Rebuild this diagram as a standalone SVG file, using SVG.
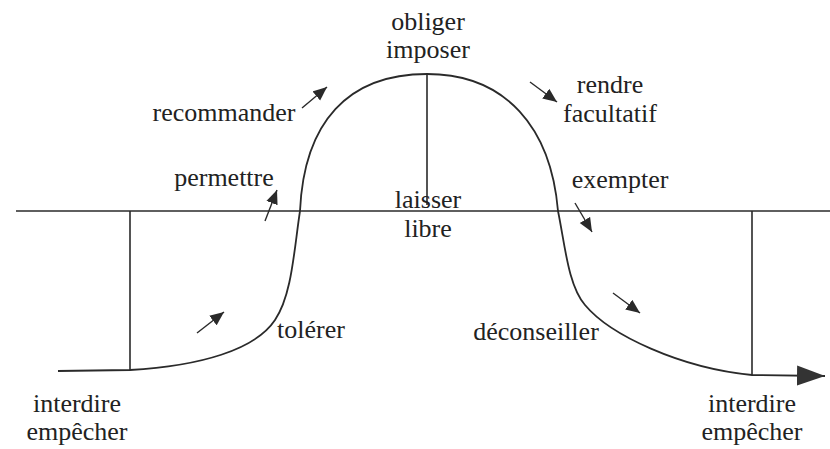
<svg xmlns="http://www.w3.org/2000/svg" width="830" height="449" viewBox="0 0 830 449">
<style>
text{font-family:"Liberation Serif","Times New Roman",serif;font-size:26px;fill:#222;text-anchor:middle}
.ln{fill:none;stroke:#2a2a2a;stroke-width:1.6}
.cv{fill:none;stroke:#2a2a2a;stroke-width:1.8}
.ar{fill:none;stroke:#2a2a2a;stroke-width:1.4}
</style>
<defs>
<marker id="big" markerUnits="userSpaceOnUse" markerWidth="30" markerHeight="22" viewBox="0 0 30 22" refX="28" refY="11" orient="auto">
<path d="M0,1 L28,11 L0,21 Z" fill="#333"/>
</marker>
<marker id="sm" markerUnits="userSpaceOnUse" markerWidth="15" markerHeight="13" viewBox="0 0 15 13" refX="14" refY="6.5" orient="auto">
<path d="M0,0.5 L14,6.5 L0,12.5 Z" fill="#2a2a2a"/>
</marker>
</defs>
<rect width="830" height="449" fill="#fff"/>
<g id="connectors">
<line class="ln" x1="16" y1="211" x2="830" y2="211"/>
<line class="ln" x1="130" y1="211" x2="130" y2="370"/>
<line class="ln" x1="427" y1="74" x2="427" y2="205"/>
<line class="ln" x1="752" y1="211" x2="752" y2="375"/>
<path class="cv" marker-end="url(#big)" d="M58,371 L130,370 C200,366 255,350 275,320 C292,295 294,250 300,211 C304,122 348,74 427,74 C506,74 551,128 558,211 C565,245 568,285 585,305 C610,335 680,368 752,375 L825,376"/>
<line class="ar" marker-end="url(#sm)" x1="302" y1="108" x2="327" y2="87"/>
<line class="ar" marker-end="url(#sm)" x1="265" y1="221" x2="277" y2="190"/>
<line class="ar" marker-end="url(#sm)" x1="197" y1="333" x2="224" y2="312"/>
<line class="ar" marker-end="url(#sm)" x1="530" y1="82" x2="557" y2="102"/>
<line class="ar" marker-end="url(#sm)" x1="575" y1="203" x2="592" y2="232"/>
<line class="ar" marker-end="url(#sm)" x1="613" y1="293" x2="640" y2="313"/>
</g>
<g id="n-obliger"><text x="428" y="30">obliger</text><text x="428" y="58">imposer</text></g>
<g id="n-recommander"><text x="224" y="121">recommander</text></g>
<g id="n-permettre"><text x="224" y="186">permettre</text></g>
<g id="n-laisser"><text x="428" y="208">laisser</text><text x="428" y="237">libre</text></g>
<g id="n-rendre"><text x="610" y="93">rendre</text><text x="610" y="122">facultatif</text></g>
<g id="n-exempter"><text x="620" y="188">exempter</text></g>
<g id="n-tolerer"><text x="311" y="338">tolérer</text></g>
<g id="n-deconseiller"><text x="536" y="340">déconseiller</text></g>
<g id="n-interdire-left"><text x="77" y="412">interdire</text><text x="77" y="440">empêcher</text></g>
<g id="n-interdire-right"><text x="752" y="412">interdire</text><text x="752" y="440">empêcher</text></g>
</svg>
